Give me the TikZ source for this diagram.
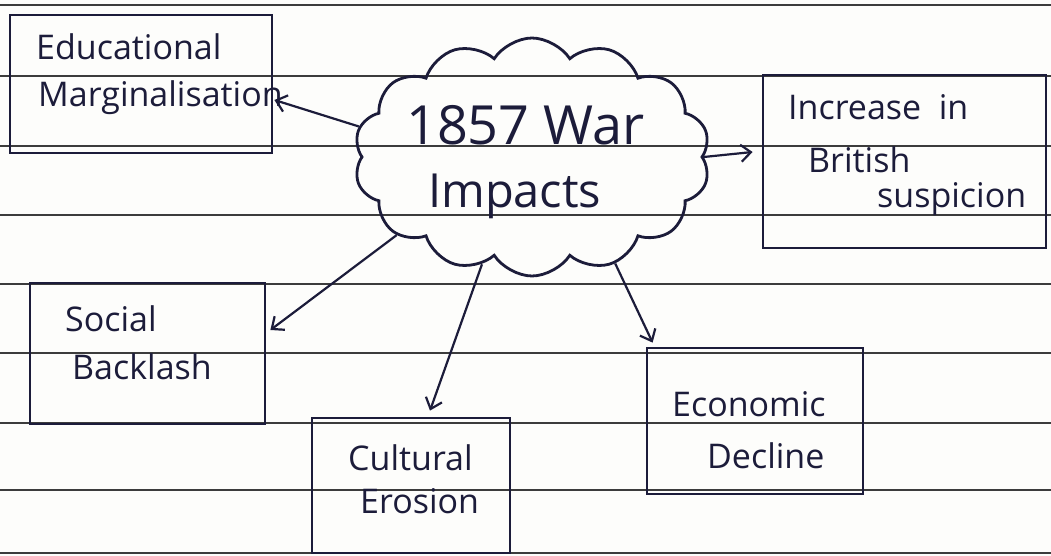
\documentclass[tikz,border=0pt]{standalone}
\usepackage{fontspec}
\setmainfont{Open Sans}
\usetikzlibrary{shapes.symbols,arrows.meta,calc}
\definecolor{ink}{HTML}{1C1C3A}
\definecolor{rulecol}{HTML}{3C3C3C}
\definecolor{paper}{HTML}{FDFDFB}
\begin{document}
\begin{tikzpicture}[x=1pt,y=-1pt,
  paperline/.style={draw=rulecol, line width=1.8pt},
  box/.style={draw=ink, line width=2.8pt, rectangle, inner sep=0pt},
  lbl/.style={text=ink, inner sep=0pt, anchor=base west, font=\fontsize{34}{40}\selectfont},
  ttl/.style={text=ink, inner sep=0pt, anchor=base west},
  arr/.style={draw=ink, line width=2.2pt, -{Straight Barb[length=10pt,width=17pt]}}]
\fill[paper] (0,0) rectangle (1051,556);
\useasboundingbox (0,0) rectangle (1051,556);
% ruled paper
\foreach \yy in {5,76,146,215,284,353,423,490,553}
  \draw[paperline] (0,\yy) -- (1051,\yy);
% central cloud
\node[cloud, draw=ink, line width=2.8pt, cloud puffs=14, cloud puff arc=115,
      minimum width=356pt, minimum height=238pt, inner sep=0pt] (cloud) at (532,157) {};
\node[ttl, font=\fontsize{54}{60}\selectfont] (t1) at (406,145) {1857 War};
\node[ttl, font=\fontsize{47}{54}\selectfont] (t2) at (428,207) {Impacts};
% boxes
\node[box, minimum width=262pt, minimum height=138pt] (edu) at (141,84) {};
\node[box, minimum width=283pt, minimum height=173pt] (inc) at (904.5,161.5) {};
\node[box, minimum width=235pt, minimum height=141pt] (soc) at (147.5,353.5) {};
\node[box, minimum width=198pt, minimum height=135pt] (cul) at (411,485.5) {};
\node[box, minimum width=216pt, minimum height=146pt] (eco) at (755,421) {};
% texts
\node[lbl] (edu1) at (36,60) {Educational};
\node[lbl] (edu2) at (38,107) {Marginalisation};
\node[lbl] (inc1) at (788,120) {Increase~ in};
\node[lbl] (inc2) at (808,172) {British};
\node[lbl] (inc3) at (877,207) {suspicion};
\node[lbl] (soc1) at (65,331) {Social};
\node[lbl] (soc2) at (72,379) {Backlash};
\node[lbl] (cul1) at (348,470) {Cultural};
\node[lbl] (cul2) at (360,513) {Erosion};
\node[lbl] (eco1) at (672,416) {Economic};
\node[lbl] (eco2) at (707,468) {Decline};
% connectors
\draw[arr] (cloud.170) -- ($(edu.east)+(1,16)$);
\draw[arr] (cloud.0) -- ($(inc.west)+(-9,-9.5)$);
\draw[arr] (cloud.210) -- ($(soc.east)+(4,-23.5)$);
\draw[arr] (cloud.245) -- ($(cul.north)+(19,-6)$);
\draw[arr] (cloud.308) -- ($(eco.north west)+(7,-4)$);
\end{tikzpicture}
\end{document}
